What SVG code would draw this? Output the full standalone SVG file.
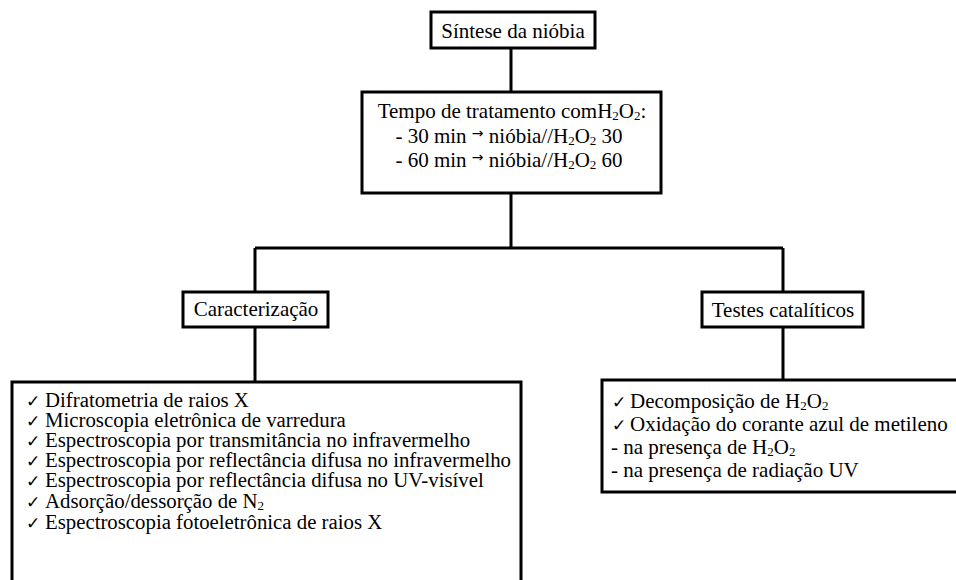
<svg xmlns="http://www.w3.org/2000/svg" width="956" height="580" viewBox="0 0 956 580">
<style>
.box{fill:#fff;stroke:#000;stroke-width:3}
.ln{stroke:#000;stroke-width:3;fill:none}
text{font-family:"Liberation Serif","Times New Roman",serif;font-size:21px;fill:#000}
.c{text-anchor:middle}
.ck{font-family:"DejaVu Sans",sans-serif;font-size:17px}
.sub{font-size:13px}
.ar{font-family:"DejaVu Sans",sans-serif;font-size:14px}
.lst{font-size:20.8px}
</style>
<rect width="956" height="580" fill="#fff"/>
<g id="connectors">
<path class="ln" d="M511,48 V92"/>
<path class="ln" d="M511,193 V248"/>
<path class="ln" d="M255,248 H783"/>
<path class="ln" d="M255,248 V292"/>
<path class="ln" d="M783,248 V292"/>
<path class="ln" d="M255,327 V382"/>
<path class="ln" d="M783,327 V380"/>
</g>
<g id="sintese">
<rect class="box" x="431" y="12" width="164" height="36"/>
<text class="c" x="513" y="38">Síntese da nióbia</text>
</g>
<g id="tempo">
<rect class="box" x="362" y="92" width="299" height="101"/>
<text class="c" x="512" y="118">Tempo de tratamento comH<tspan class="sub" dy="2">2</tspan><tspan dy="-2">O</tspan><tspan class="sub" dy="2">2</tspan><tspan dy="-2">:</tspan></text>
<text class="c" x="509" y="143">- 30 min <tspan class="ar" dy="-5">→</tspan><tspan dy="5"> nióbia//H</tspan><tspan class="sub" dy="2">2</tspan><tspan dy="-2">O</tspan><tspan class="sub" dy="2">2</tspan><tspan dy="-2"> 30</tspan></text>
<text class="c" x="509" y="167">- 60 min <tspan class="ar" dy="-5">→</tspan><tspan dy="5"> nióbia//H</tspan><tspan class="sub" dy="2">2</tspan><tspan dy="-2">O</tspan><tspan class="sub" dy="2">2</tspan><tspan dy="-2"> 60</tspan></text>
</g>
<g id="caracterizacao">
<rect class="box" x="183" y="292" width="145" height="35"/>
<text class="c" x="256" y="316">Caracterização</text>
</g>
<g id="testes">
<rect class="box" x="702" y="292" width="161" height="35"/>
<text class="c" x="783" y="317">Testes  catalíticos</text>
</g>
<g id="lista-caracterizacao">
<rect class="box" x="12" y="382" width="509" height="220"/>
<text class="ck" x="26" y="407">✓</text><text class="lst" x="45" y="407">Difratometria de raios X</text>
<text class="ck" x="26" y="427">✓</text><text class="lst" x="45" y="427">Microscopia eletrônica de varredura</text>
<text class="ck" x="26" y="447">✓</text><text class="lst" x="45" y="447">Espectroscopia por transmitância no infravermelho</text>
<text class="ck" x="26" y="467">✓</text><text class="lst" x="45" y="467">Espectroscopia por reflectância difusa no infravermelho</text>
<text class="ck" x="26" y="487">✓</text><text class="lst" x="45" y="487">Espectroscopia por reflectância difusa no UV-visível</text>
<text class="ck" x="26" y="508">✓</text><text class="lst" x="45" y="508">Adsorção/dessorção de N<tspan class="sub" dy="2">2</tspan></text>
<text class="ck" x="26" y="529">✓</text><text class="lst" x="45" y="529">Espectroscopia fotoeletrônica de raios X</text>
</g>
<g id="lista-testes">
<rect class="box" x="602" y="380" width="370" height="112"/>
<text class="ck" x="612" y="408">✓</text><text x="630" y="408">Decomposição de H<tspan class="sub" dy="2">2</tspan><tspan dy="-2">O</tspan><tspan class="sub" dy="2">2</tspan></text>
<text class="ck" x="612" y="431">✓</text><text x="630" y="431">Oxidação do corante azul de metileno</text>
<text x="611" y="454">- na presença de H<tspan class="sub" dy="2">2</tspan><tspan dy="-2">O</tspan><tspan class="sub" dy="2">2</tspan></text>
<text x="611" y="477">- na presença de radiação UV</text>
</g>
</svg>
